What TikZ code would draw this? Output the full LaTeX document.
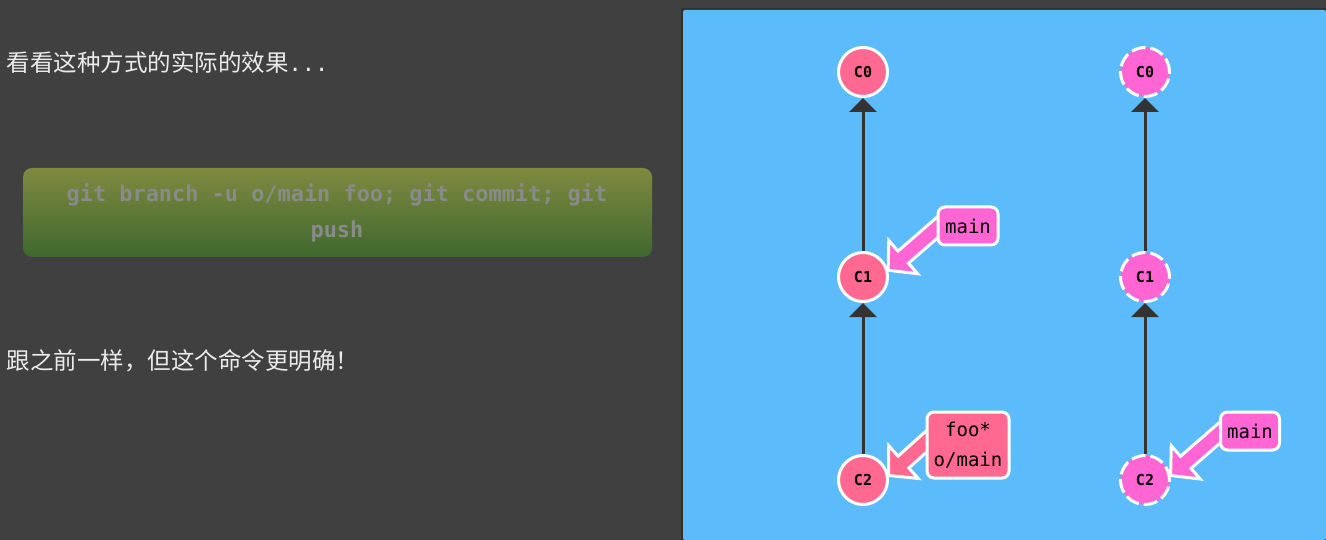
\documentclass[tikz,border=0pt]{standalone}
\usepackage{fontspec}
\setmonofont{DejaVu Sans Mono}
\newfontfamily\cjk{Noto Sans CJK SC}
\usetikzlibrary{arrows.meta, calc}
\definecolor{pagebg}{RGB}{64,64,64}
\definecolor{panelbg}{RGB}{92,187,251}
\definecolor{commitred}{RGB}{255,104,144}
\definecolor{commitpink}{RGB}{255,102,212}
\definecolor{linkgray}{RGB}{51,51,51}
\definecolor{btntop}{RGB}{128,138,64}
\definecolor{btnbot}{RGB}{62,104,46}
\definecolor{btntext}{RGB}{138,138,138}
\tikzstyle{commit} = [circle, minimum size=49pt, inner sep=0pt, draw=white, line width=3pt,
    fill=commitred, font=\ttfamily\bfseries\fontsize{15}{17}\selectfont]
\tikzstyle{ghost} = [commit, fill=commitpink, dash pattern=on 14pt off 5pt]
\tikzstyle{branch} = [rectangle, rounded corners=7pt, draw=white, line width=3pt,
    fill=commitpink, inner sep=0pt, align=center, font=\ttfamily\fontsize{19}{30}\selectfont]
\tikzstyle{link} = [linkgray, line width=3pt, -{Triangle[length=14pt, width=27pt]}]
\tikzstyle{note} = [anchor=west, text=white!92!black, font=\cjk\fontsize{23.5}{26}\selectfont]
% fat arrow from a branch label to its commit
\newcommand{\brarrow}[4]{%
  \begin{scope}[shift={(#1)}, rotate=#2]
    \draw[white, line width=3pt, fill=#4, line join=miter]
      (0,0) -- (20,22) -- (20,8) -- (#3,8) -- (#3,-8) -- (20,-8) -- (20,-22) -- cycle;
  \end{scope}}

\begin{document}
\begin{tikzpicture}[x=1pt, y=-1pt]
\useasboundingbox[fill=pagebg] (0,0) rectangle (1326,540);
\fill[black, opacity=0.25] (681,8) rectangle (1326,540);
\fill[panelbg] (683,10) [rounded corners=2pt] -- (683,540) -- (1326,540) -- (1326,10) -- cycle;

% left text
\node (say) [note] at (3,63) {看看这种方式的实际的效果{\ttfamily\fontsize{22}{24}\selectfont...}};
\node (same) [note] at (3,361) {跟之前一样，但这个命令更明确！};
\shade[top color=btntop, bottom color=btnbot, rounded corners=9pt] (23,168) rectangle (652,257);
\node (cmd) [align=center, text=btntext, font=\ttfamily\bfseries\fontsize{21.9}{36}\selectfont]
  at (337,213) {git branch -u o/main foo; git commit; git\\push};

% before
\node (c0) [commit] at (863,72) {C0};
\node (c1) [commit] at (863,277) {C1};
\node (c2) [commit] at (863,480) {C2};
\draw[link] (c1) -- (c0);
\draw[link] (c2) -- (c1);
\brarrow{c1.15}{41}{75}{commitpink}
\node (main) [branch, minimum width=60pt, minimum height=38pt] at (968,226) {main};
\brarrow{c2.10}{42}{70}{commitred}
\node (foo) [branch, fill=commitred, minimum width=82pt, minimum height=66pt] at (968,445) {foo*\\o/main};

% after
\node (d0) [ghost] at (1145,72) {C0};
\node (d1) [ghost] at (1145,277) {C1};
\node (d2) [ghost] at (1145,480) {C2};
\draw[link] (d1) -- (d0);
\draw[link] (d2) -- (d1);
\brarrow{d2.10}{41}{75}{commitpink}
\node (mainb) [branch, minimum width=59pt, minimum height=38pt] at (1250,431) {main};
\end{tikzpicture}
\end{document}
